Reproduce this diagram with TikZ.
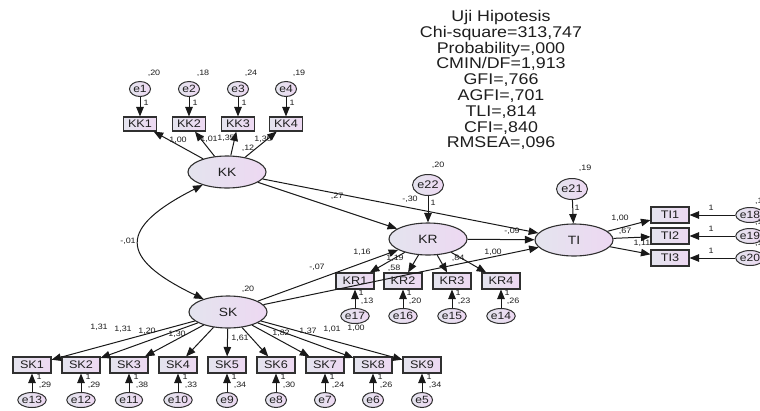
\documentclass[tikz,border=0pt]{standalone}
\usepackage{fontspec}
\setmainfont{Liberation Sans}[FakeStretch=1.15]
\usetikzlibrary{arrows.meta,shapes.geometric}

\definecolor{lineclr}{HTML}{303030}
\definecolor{txtclr}{HTML}{1E1E1E}
\definecolor{shadeL}{HTML}{E4E4EE}
\definecolor{shadeR}{HTML}{EDD8F2}

% small estimate label at a fixed spot
\newcommand\lbl[3]{\node[lbl] (#1) at (#2) {#3};}

\begin{document}
\begin{tikzpicture}[x=1pt,y=-1pt,
  every node/.style={text=txtclr},
  latent/.style={ellipse,draw=lineclr,line width=1.1pt,minimum width=78pt,
    minimum height=32pt,inner sep=0pt,left color=shadeL,right color=shadeR,
    font=\fontsize{12}{12}\selectfont},
  obsbox/.style={rectangle,draw=lineclr,line width=1.1pt,minimum width=38pt,
    minimum height=16pt,inner sep=0pt,left color=shadeL,right color=shadeR,
    font=\fontsize{11}{12}\selectfont},
  obssmall/.style={obsbox,minimum width=33pt,minimum height=14pt},
  errc/.style={ellipse,draw=lineclr,line width=1pt,minimum width=21pt,
    minimum height=15pt,inner sep=0pt,left color=shadeL,right color=shadeR,
    font=\fontsize{10.5}{11}\selectfont},
  errbig/.style={errc,minimum width=31pt,minimum height=21pt,
    font=\fontsize{11}{12}\selectfont},
  lbl/.style={inner sep=0pt,font=\fontsize{7.8}{8}\selectfont},
  path/.style={draw=black!90,line width=1pt,-{Triangle[length=9.5pt,width=7.5pt]}},
  covar/.style={draw=black!90,line width=1pt,
    {Triangle[length=9.5pt,width=7.5pt]}-{Triangle[length=9.5pt,width=7.5pt]}},
]
\useasboundingbox (0,0) rectangle (760,410);
\clip (0,0) rectangle (760,410);
\fill[white] (0,0) rectangle (760,410);

% fit summary
\node[align=center,font=\fontsize{15.5}{15.8}\selectfont,inner sep=0pt,anchor=north]
  (fit) at (501,10) {Uji Hipotesis\\Chi-square=313,747\\Probability=,000\\
  CMIN/DF=1,913\\GFI=,766\\AGFI=,701\\TLI=,814\\CFI=,840\\RMSEA=,096};

% latent variables
\node[latent] (KK) at (227,172) {KK};
\node[latent] (SK) at (228,312) {SK};
\node[latent] (KR) at (428,239) {KR};
\node[latent] (TI) at (574,240) {TI};

% KK indicators
\foreach \i/\x/\e in {1/140/e1,2/189/e2,3/238/e3,4/286/e4}{
  \node[obssmall] (KK\i) at (\x,124) {KK\i};
  \node[errc] (\e) at (\x,89) {\e};
}
% SK indicators
\foreach \i/\x/\e in {1/32/e13,2/81/e12,3/129/e11,4/178/e10,5/227/e9,
                       6/276/e8,7/325/e7,8/373/e6,9/422/e5}{
  \node[obsbox] (SK\i) at (\x,365) {SK\i};
  \node[errc] (\e) at (\x,400) {\e};
}
% KR indicators
\foreach \i/\x/\e in {1/355/e17,2/403/e16,3/452/e15,4/501/e14}{
  \node[obsbox] (KR\i) at (\x,281) {KR\i};
  \node[errc] (\e) at (\x,316) {\e};
}
% TI indicators
\foreach \i/\y/\e in {1/215/e18,2/236/e19,3/258/e20}{
  \node[obsbox] (TI\i) at (670,\y) {TI\i};
  \node[errc] (\e) at (750,\y) {\e};
}
% structural disturbances
\node[errbig] (e22) at (428,185) {e22};
\node[errbig] (e21) at (572,189) {e21};

% measurement paths
\foreach \i/\e in {1/e1,2/e2,3/e3,4/e4}{
  \draw[path] (KK) -- (KK\i);
  \draw[path] (\e) -- (KK\i);
}
\foreach \i/\e in {1/e13,2/e12,3/e11,4/e10,5/e9,6/e8,7/e7,8/e6,9/e5}{
  \draw[path] (SK) -- (SK\i);
  \draw[path] (\e) -- (SK\i);
}
\foreach \i/\e in {1/e17,2/e16,3/e15,4/e14}{
  \draw[path] (KR) -- (KR\i);
  \draw[path] (\e) -- (KR\i);
}
\foreach \i/\e in {1/e18,2/e19,3/e20}{
  \draw[path] (TI) -- (TI\i);
  \draw[path] (\e) -- (TI\i);
}

% structural paths
\draw[path] (KK) -- (KR);
\draw[path] (KK) -- (TI);
\draw[path] (SK) -- (KR);
\draw[path] (SK) -- (TI);
\draw[path] (KR) -- (TI);
\draw[path] (e22) -- (KR);
\draw[path] (e21) -- (TI);
\draw[covar] (SK.152) .. controls (118,258) and (118,228) .. (KK.208);

% KK block estimates
\lbl{vA}{154,73}{,20}
\lbl{vB}{203,73}{,18}
\lbl{vC}{251,73}{,24}
\lbl{vD}{299,73}{,19}
\lbl{fA}{146,103}{1}
\lbl{fB}{195,103}{1}
\lbl{fC}{244,103}{1}
\lbl{fD}{292,103}{1}
\lbl{wA}{178,140}{1,00}
\lbl{wB}{209,139}{1,01}
\lbl{wC}{226,138}{1,35}
\lbl{wD}{263,139}{1,36}
\lbl{vKK}{248,148}{,12}
\lbl{cov}{128,241}{-,01}

% SK block estimates
\lbl{vSK}{248,289}{,20}
\lbl{sA}{99,327}{1,31}
\lbl{sB}{123,329}{1,31}
\lbl{sC}{147,331}{1,20}
\lbl{sD}{177,334}{1,30}
\lbl{sE}{240,338}{1,61}
\lbl{sF}{281,333}{1,82}
\lbl{sG}{308,331}{1,37}
\lbl{sH}{332,329}{1,01}
\lbl{sI}{356,328}{1,00}
\foreach \x/\v [count=\k] in {32/{,29},81/{,29},129/{,38},178/{,33},227/{,34},
                               276/{,30},325/{,24},373/{,26},422/{,34}}{
  \node[lbl] (sf\k) at (\x+7,377) {1};
  \node[lbl] (sv\k) at (\x+13,385) {\v};
}

% KR block estimates
\foreach \x/\v [count=\k] in {355/{,13},403/{,20},452/{,23},501/{,26}}{
  \node[lbl] (rf\k) at (\x+6,293) {1};
  \node[lbl] (rv\k) at (\x+12,301) {\v};
}
\lbl{rA}{362,252}{1,16}
\lbl{rB}{395,258}{1,19}
\lbl{rC}{394,268}{,58}
\lbl{rD}{458,258}{,84}
\lbl{rE}{493,252}{1,00}
\lbl{gA}{317,267}{-,07}
\lbl{gB}{337,196}{,27}
\lbl{gC}{410,199}{-,30}
\lbl{gD}{512,231}{-,09}
\lbl{v22}{438,165}{,20}
\lbl{f22}{433,203}{1}

% TI block estimates
\lbl{v21}{585,168}{,19}
\lbl{f21}{577,208}{1}
\lbl{tA}{620,218}{1,00}
\lbl{tB}{625,231}{,67}
\lbl{tC}{642,243}{1,11}
\foreach \y [count=\k] in {208,229,251}{
  \node[lbl] (tf\k) at (711,\y) {1};
}
\foreach \y [count=\k] in {201,222,243}{
  \node[lbl,anchor=west] (tv\k) at (755,\y) {,1};
}
\end{tikzpicture}
\end{document}
